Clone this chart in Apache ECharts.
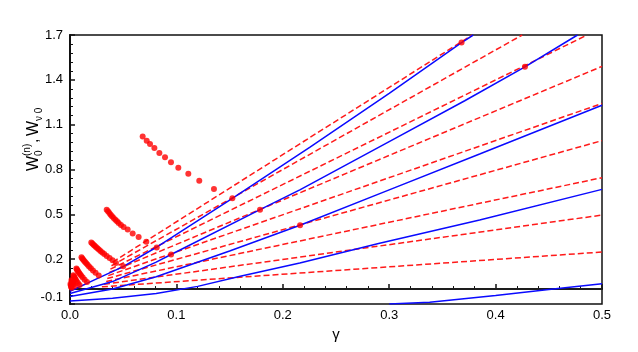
<!DOCTYPE html>
<html>
<head>
<meta charset="utf-8">
<script src="https://cdn.jsdelivr.net/npm/echarts@6.0.0/dist/echarts.min.js"></script>
<style>
  html, body { margin: 0; padding: 0; background: #fff; }
  #chart { width: 638px; height: 352px; }
</style>
</head>
<body>
<div id="chart"></div>
<script>
// tick labels
const xTicks = [0.0, 0.1, 0.2, 0.3, 0.4, 0.5]
const yTicks = [-0.1, 0.2, 0.5, 0.8, 1.1, 1.4, 1.7]

// red dashed lines, W_0^(n): start and end point of each line
const dashStartG = [0.030, 0.032, 0.034, 0.035, 0.036, 0.037, 0.038, 0.039, 0.040]
const dashStartW = [0.015, 0.032, 0.051, 0.070, 0.090, 0.111, 0.133, 0.156, 0.180]
const dashEndG = [0.5, 0.5, 0.5, 0.5, 0.5, 0.5, 0.486, 0.425, 0.378]
const dashEndW = [0.248, 0.495, 0.745, 0.993, 1.242, 1.490, 1.70, 1.70, 1.70]

// blue solid curves, W_v0
const blue1G = [0, 0.025, 0.05, 0.0808, 0.1526, 0.2256, 0.30, 0.368, 0.379]
const blue1W = [-0.015, 0.068, 0.150, 0.278, 0.607, 0.949, 1.31, 1.649, 1.70]
const blue2G = [0, 0.04, 0.081, 0.095, 0.1786, 0.216, 0.30, 0.371, 0.4276, 0.477]
const blue2W = [-0.03, 0.05, 0.18, 0.231, 0.531, 0.664, 0.987, 1.26, 1.487, 1.70]
const blue3G = [0, 0.04, 0.081, 0.15, 0.2162, 0.30, 0.385, 0.5]
const blue3W = [-0.05, 0.0, 0.082, 0.255, 0.427, 0.664, 0.904, 1.23]
const blue4G = [0, 0.04, 0.081, 0.12, 0.16, 0.216, 0.29, 0.385, 0.5]
const blue4W = [-0.08, -0.062, -0.03, 0.018, 0.085, 0.175, 0.305, 0.462, 0.667]
const blue5G = [0.30, 0.338, 0.40, 0.45, 0.5]
const blue5W = [-0.1, -0.089, -0.043, -0.003, 0.035]

// red dots (chains)
const dotsAG = [0.0683, 0.0721, 0.0752, 0.0793, 0.0840, 0.0893, 0.0949, 0.1018, 0.1112, 0.1215, 0.1353, 0.1526, 0.1786, 0.2162]
const dotsAW = [1.020, 0.993, 0.971, 0.944, 0.911, 0.882, 0.849, 0.811, 0.771, 0.724, 0.669, 0.607, 0.531, 0.427]
const dotsBG = [0.0345, 0.0357, 0.0370, 0.0382, 0.0395, 0.0410, 0.0426, 0.0442, 0.0457, 0.0479, 0.0504, 0.0542, 0.0589, 0.0645, 0.0717, 0.0815, 0.095]
const dotsBW = [0.531, 0.520, 0.509, 0.498, 0.487, 0.476, 0.464, 0.453, 0.442, 0.429, 0.416, 0.398, 0.371, 0.349, 0.316, 0.278, 0.231]
const dotsCG = [0.0200, 0.0210, 0.0221, 0.0232, 0.0244, 0.0257, 0.0271, 0.0286, 0.0303, 0.0322, 0.0345, 0.0372, 0.0400, 0.0432, 0.0500]
const dotsCW = [0.312, 0.304, 0.297, 0.290, 0.282, 0.273, 0.264, 0.255, 0.245, 0.234, 0.221, 0.207, 0.192, 0.175, 0.152]
const dotsDG = [0.0108, 0.0115, 0.0123, 0.0132, 0.0142, 0.0153, 0.0165, 0.0179, 0.0196, 0.0216, 0.0240, 0.0270]
const dotsDW = [0.212, 0.205, 0.198, 0.190, 0.181, 0.172, 0.162, 0.151, 0.139, 0.125, 0.109, 0.090]
const dotsEG = [0.0060, 0.0065, 0.0071, 0.0078, 0.0086, 0.0095, 0.0106, 0.0120, 0.0138, 0.0160]
const dotsEW = [0.137, 0.131, 0.124, 0.116, 0.108, 0.099, 0.089, 0.077, 0.063, 0.047]
const dotsFG = [0.0032, 0.0036, 0.0041, 0.0047, 0.0054, 0.0063, 0.0075, 0.0090, 0.0014, 0.0017, 0.0021, 0.0026, 0.0032, 0.0040, 0.0005, 0.0007, 0.0010, 0.0015]
const dotsFW = [0.092, 0.086, 0.079, 0.071, 0.062, 0.052, 0.040, 0.027, 0.060, 0.054, 0.047, 0.039, 0.030, 0.020, 0.035, 0.025, 0.015, 0.008]
// top pair of dots
const dotsTG = [0.368, 0.4276]
const dotsTW = [1.649, 1.487]

const FONT = '"Liberation Sans", Arial, sans-serif'

function pairs(xs, ys) {
  return xs.map((x, i) => [x, ys[i]])
}

const series = []

// W = 0 reference line
series.push({
  type: 'line',
  data: [[xTicks[0], 0], [xTicks[xTicks.length - 1], 0]],
  symbol: 'none',
  lineStyle: { color: '#222', width: 1.5 },
  z: 2
})

for (let i = 0; i < dashStartG.length; i++) {
  series.push({
    type: 'line',
    data: [[dashStartG[i], dashStartW[i]], [dashEndG[i], dashEndW[i]]],
    symbol: 'none',
    lineStyle: { color: '#ff1a1a', width: 1.5, type: [6, 3] },
    z: 3
  })
}

const blues = [[blue1G, blue1W], [blue2G, blue2W], [blue3G, blue3W], [blue4G, blue4W], [blue5G, blue5W]]
blues.forEach(b => {
  series.push({
    type: 'line',
    data: pairs(b[0], b[1]),
    symbol: 'none',
    lineStyle: { color: '#0a0aff', width: 1.5 },
    z: 4
  })
})

const dots = [[dotsAG, dotsAW], [dotsBG, dotsBW], [dotsCG, dotsCW], [dotsDG, dotsDW], [dotsEG, dotsEW], [dotsFG, dotsFW], [dotsTG, dotsTW]]
dots.forEach(d => {
  series.push({
    type: 'scatter',
    data: pairs(d[0], d[1]),
    symbol: 'circle',
    symbolSize: 6,
    itemStyle: { color: '#ff0000' },
    z: 5
  })
})

const chart = echarts.init(document.getElementById('chart'), null, { renderer: 'canvas' })

chart.setOption({
  animation: false,
  backgroundColor: '#fff',
  grid: {
    left: 70, right: 36, top: 35, bottom: 48,
    show: true,
    borderColor: '#111',
    borderWidth: 1.5,
    backgroundColor: 'transparent'
  },
  xAxis: {
    type: 'value',
    min: xTicks[0],
    max: xTicks[xTicks.length - 1],
    interval: 0.1,
    name: 'γ',
    nameLocation: 'middle',
    nameGap: 15,
    nameTextStyle: { fontFamily: FONT, fontSize: 15, color: '#000' },
    axisLine: { show: true, lineStyle: { color: '#111', width: 2 } },
    axisTick: { show: true, inside: true, length: 5, lineStyle: { color: '#111', width: 1.5 } },
    minorTick: { show: true, splitNumber: 5, length: 3, lineStyle: { color: '#111', width: 1 } },
    splitLine: { show: false },
    axisLabel: {
      fontFamily: FONT, fontSize: 13, color: '#000', margin: 5,
      formatter: v => v.toFixed(1)
    }
  },
  yAxis: {
    type: 'value',
    min: yTicks[0],
    max: yTicks[yTicks.length - 1],
    interval: 0.3,
    axisLine: { show: true, lineStyle: { color: '#111', width: 2 } },
    axisTick: { show: true, inside: true, length: 5, lineStyle: { color: '#111', width: 1.5 } },
    minorTick: { show: true, splitNumber: 5, length: 3, lineStyle: { color: '#111', width: 1 } },
    splitLine: { show: false },
    axisLabel: {
      fontFamily: FONT, fontSize: 13, color: '#000', margin: 7,
      verticalAlignMinLabel: 'bottom',
      formatter: v => v.toFixed(1)
    }
  },
  // y axis title: W_0^(n), W_v0 written bottom to top
  graphic: [{
    type: 'group',
    x: 34,
    y: 171,
    rotation: Math.PI / 2,
    children: [
      { type: 'text', x: 0, y: 0, style: { text: 'W', font: '16px ' + FONT, fill: '#000', align: 'left', verticalAlign: 'middle' } },
      { type: 'text', x: 15, y: -7, style: { text: '(n)', font: '10px ' + FONT, fill: '#000', align: 'left', verticalAlign: 'middle' } },
      { type: 'text', x: 15, y: 5, style: { text: '0', font: '10px ' + FONT, fill: '#000', align: 'left', verticalAlign: 'middle' } },
      { type: 'text', x: 28, y: 0, style: { text: ',', font: '16px ' + FONT, fill: '#000', align: 'left', verticalAlign: 'middle' } },
      { type: 'text', x: 35, y: 0, style: { text: 'W', font: '16px ' + FONT, fill: '#000', align: 'left', verticalAlign: 'middle' } },
      { type: 'text', x: 50, y: 5, style: { text: 'ν 0', font: '10px ' + FONT, fill: '#000', align: 'left', verticalAlign: 'middle' } }
    ]
  }],
  series: series
})
</script>
</body>
</html>
